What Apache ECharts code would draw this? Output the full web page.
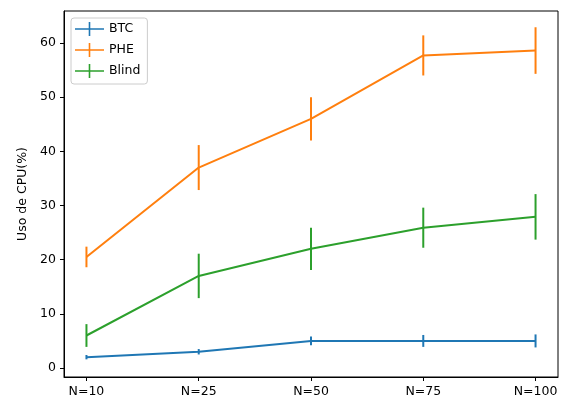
<!DOCTYPE html>
<html>
<head>
<meta charset="utf-8">
<script src="https://cdn.jsdelivr.net/npm/echarts@6/dist/echarts.min.js"></script>
<style>
  html, body { margin: 0; padding: 0; background: #fff; }
  #chart { width: 563px; height: 401px; }
</style>
</head>
<body>
<div id="chart"></div>
<script>
// Categories along the x axis
const categories = ['N=10', 'N=25', 'N=50', 'N=75', 'N=100'];

// Mean CPU usage (%) per scheme
const btcValues   = [2.0, 3.0, 5.0, 5.0, 5.0];
const pheValues   = [20.5, 37.0, 46.0, 57.7, 58.6];
const blindValues = [6.0, 17.0, 22.0, 25.9, 27.9];

// Symmetric error (half-length of each error bar)
const btcErrors   = [0.4, 0.5, 0.8, 1.1, 1.2];
const pheErrors   = [1.9, 4.15, 4.0, 3.7, 4.3];
const blindErrors = [2.1, 4.1, 3.9, 3.7, 4.2];

// Y tick labels
const yTicks = [0, 10, 20, 30, 40, 50, 60];

const seriesDefs = [
  { name: 'BTC',   color: '#1f77b4', values: btcValues,   errors: btcErrors },
  { name: 'PHE',   color: '#ff7f0e', values: pheValues,   errors: pheErrors },
  { name: 'Blind', color: '#2ca02c', values: blindValues, errors: blindErrors }
];

const xIdx = categories.map((_, i) => i);
const FONT = 'DejaVu Sans';
const FS = 12.5;

// Plus-shaped legend glyph: horizontal line with a vertical error bar
const plusIcon = 'path://M0,6.2 H29 V7.8 H0 Z M13.7,0 H15.3 V14 H13.7 Z';

const series = [];
seriesDefs.forEach(s => {
  series.push({
    name: s.name,
    type: 'line',
    data: s.values.map((v, i) => [i, v]),
    showSymbol: false,
    lineStyle: { color: s.color, width: 2 },
    itemStyle: { color: s.color },
    z: 3,
    animation: false
  });
  series.push({
    name: s.name + '-err',
    type: 'custom',
    data: s.values.map((v, i) => [i, v - s.errors[i], v + s.errors[i]]),
    encode: { x: 0, y: [1, 2] },
    renderItem: function (params, api) {
      const lo = api.coord([api.value(0), api.value(1)]);
      const hi = api.coord([api.value(0), api.value(2)]);
      return {
        type: 'line',
        shape: { x1: lo[0], y1: lo[1], x2: hi[0], y2: hi[1] },
        style: { stroke: s.color, lineWidth: 2 }
      };
    },
    z: 4,
    animation: false,
    silent: true
  });
});

const chart = echarts.init(document.getElementById('chart'), null, { renderer: 'canvas' });
chart.setOption({
  backgroundColor: '#ffffff',
  animation: false,
  grid: {
    left: 64, right: 5, top: 11, bottom: 24,
    show: true, borderColor: '#000', borderWidth: 1, backgroundColor: 'transparent'
  },
  legend: {
    data: seriesDefs.map(s => ({ name: s.name, icon: plusIcon })),
    orient: 'vertical',
    left: 71, top: 18,
    itemWidth: 29, itemHeight: 14, itemGap: 7, itemTextGap: 11,
    padding: [4, 7, 6, 4],
    backgroundColor: 'rgba(255,255,255,0.8)',
    borderColor: '#cccccc', borderWidth: 1, borderRadius: 3,
    textStyle: { fontFamily: FONT, fontSize: FS, color: '#000' }
  },
  xAxis: {
    type: 'value',
    min: -0.2, max: 4.2,
    axisLine: { show: true, onZero: false, lineStyle: { color: '#000', width: 1 } },
    axisTick: { show: true, length: 4, customValues: xIdx, lineStyle: { color: '#000' } },
    axisLabel: {
      customValues: xIdx,
      formatter: v => categories[Math.round(v)],
      fontFamily: FONT, fontSize: FS, color: '#000', margin: 8
    },
    splitLine: { show: false }
  },
  yAxis: {
    type: 'value',
    min: -1.66, max: 65.9,
    name: 'Uso de CPU(%)',
    nameLocation: 'middle',
    nameGap: 34,
    nameRotate: 90,
    nameTextStyle: { fontFamily: FONT, fontSize: FS, color: '#000' },
    axisLine: { show: true, onZero: false, lineStyle: { color: '#000', width: 1 } },
    axisTick: { show: true, length: 4, customValues: yTicks, lineStyle: { color: '#000' } },
    axisLabel: {
      customValues: yTicks,
      fontFamily: FONT, fontSize: FS, color: '#000', margin: 8
    },
    splitLine: { show: false }
  },
  series: series
});
</script>
</body>
</html>
